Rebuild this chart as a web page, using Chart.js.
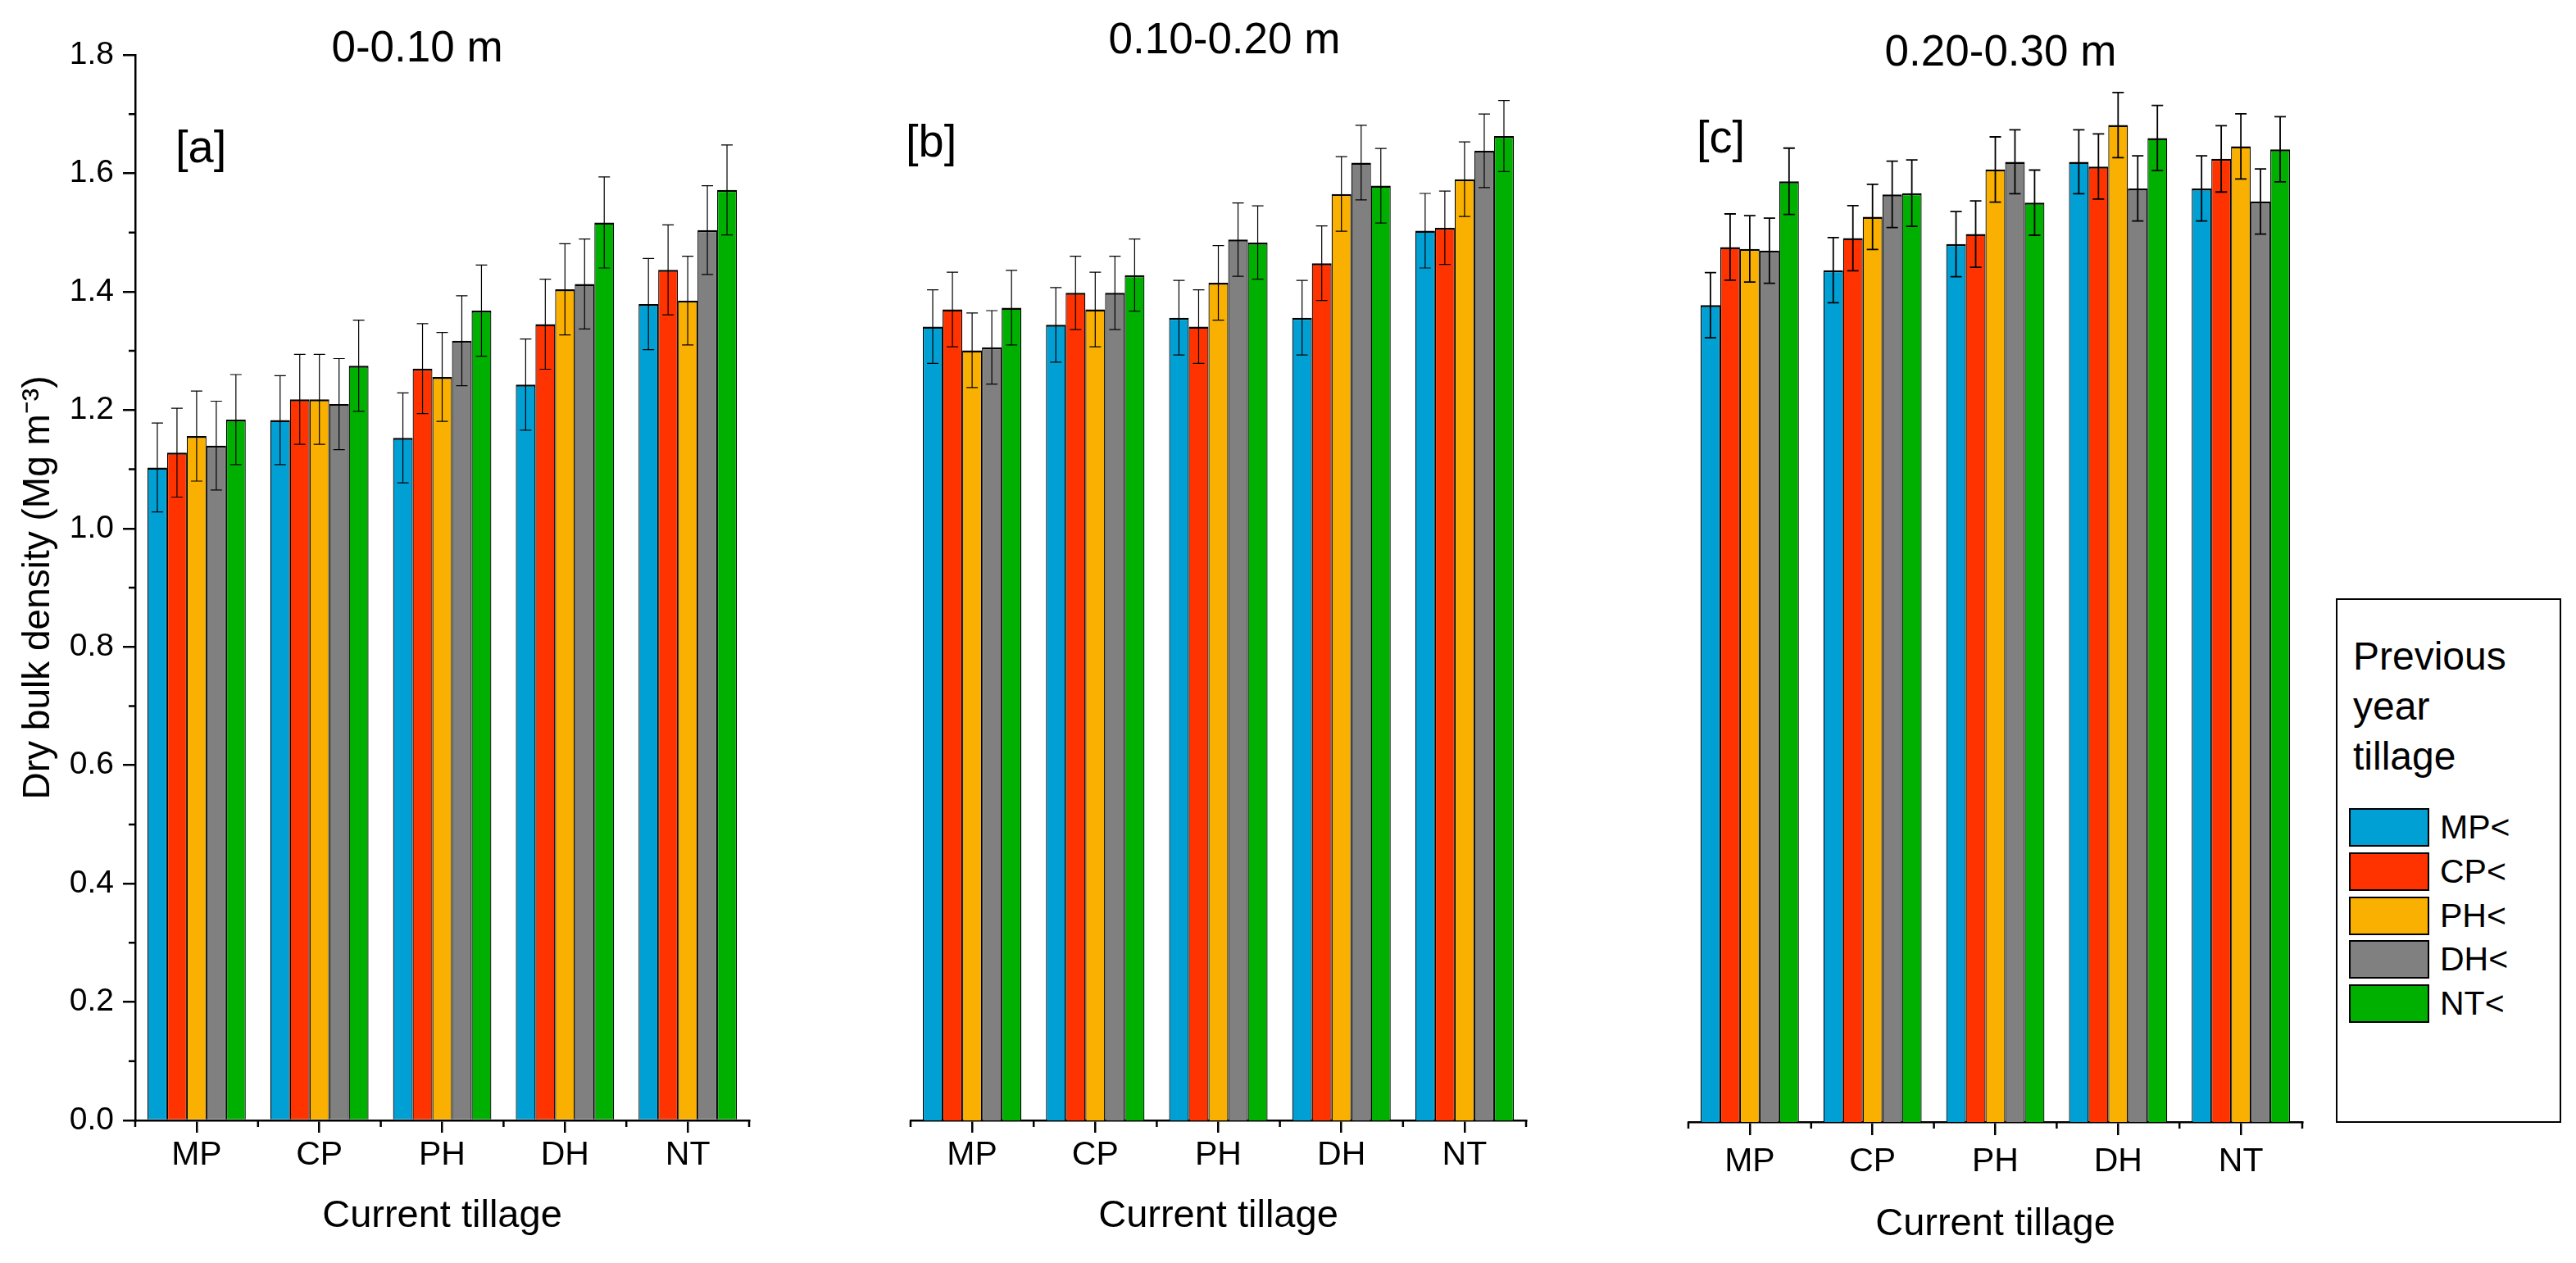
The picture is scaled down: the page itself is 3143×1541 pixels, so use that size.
<!DOCTYPE html>
<html>
<head>
<meta charset="utf-8">
<script src="https://cdn.jsdelivr.net/npm/chart.js@4.4.1/dist/chart.umd.min.js"></script>
<style>
  html, body { margin: 0; padding: 0; background: #fff; }
  body { width: 3143px; height: 1541px; position: relative; overflow: hidden;
         font-family: "Liberation Sans", Arial, sans-serif; color: #000; }
  canvas { position: absolute; top: 0; }
  .txt { position: absolute; white-space: nowrap; line-height: 1; }
  .center { transform: translateX(-50%); }
  #legend { position: absolute; left: 2850px; top: 730px; width: 275px; height: 640px;
            box-sizing: border-box; border: 2px solid #000; }
  #legend .head { position: absolute; left: 19px; top: 38px; font-size: 48px; line-height: 61px; }
  #legend .rows { position: absolute; left: 14px; top: 251px; }
  #legend .row { height: 53.7px; display: flex; align-items: center; }
  #legend .sw { width: 98px; height: 47px; box-sizing: border-box; border: 2px solid #000; }
  #legend .lab { margin-left: 13px; font-size: 41px; }
</style>
</head>
<body>
<canvas id="chart-a" width="940" height="1541" style="left:0px"></canvas>
<canvas id="chart-b" width="800" height="1541" style="left:1090px"></canvas>
<canvas id="chart-c" width="800" height="1541" style="left:2040px"></canvas>

<div class="txt center" style="left:509px; top:30px; font-size:53px">0-0.10 m</div>
<div class="txt center" style="left:1494px; top:20px; font-size:53px">0.10-0.20 m</div>
<div class="txt center" style="left:2441px; top:35px; font-size:53px">0.20-0.30 m</div>

<div class="txt" style="left:214px; top:151px; font-size:56px">[a]</div>
<div class="txt" style="left:1105px; top:144px; font-size:56px">[b]</div>
<div class="txt" style="left:2070px; top:139px; font-size:56px">[c]</div>

<div id="legend">
  <div class="head">Previous<br>year<br>tillage</div>
  <div class="rows" id="legend-rows"></div>
</div>

<script>
// current tillage (x axis) and previous year tillage (series)
const currentTillage = ["MP", "CP", "PH", "DH", "NT"];
const previousTillage = ["MP<", "CP<", "PH<", "DH<", "NT<"];
const seriesColors = ["#00A0D5", "#FF3300", "#F9B000", "#808080", "#00B000"];
const yTicks = [0, 0.2, 0.4, 0.6, 0.8, 1.0, 1.2, 1.4, 1.6, 1.8];

// 0-0.10 m, one row per previous tillage, values over current tillage
const meansA = [
  [1.103, 1.183, 1.153, 1.243, 1.379],
  [1.128, 1.218, 1.270, 1.345, 1.437],
  [1.156, 1.218, 1.256, 1.404, 1.385],
  [1.140, 1.210, 1.317, 1.413, 1.504],
  [1.184, 1.275, 1.368, 1.517, 1.572],
];
const errorsA = [
  [0.075, 0.075, 0.076, 0.077, 0.077],
  [0.075, 0.076, 0.076, 0.076, 0.076],
  [0.076, 0.076, 0.075, 0.077, 0.075],
  [0.075, 0.077, 0.076, 0.076, 0.075],
  [0.076, 0.077, 0.077, 0.077, 0.076],
];

// 0.10-0.20 m
const meansB = [
  [1.341, 1.344, 1.356, 1.356, 1.503],
  [1.370, 1.398, 1.341, 1.448, 1.508],
  [1.301, 1.370, 1.415, 1.565, 1.590],
  [1.306, 1.398, 1.488, 1.618, 1.638],
  [1.373, 1.428, 1.483, 1.579, 1.663],
];
const errorsB = [
  [0.062, 0.063, 0.063, 0.063, 0.063],
  [0.063, 0.062, 0.062, 0.063, 0.062],
  [0.063, 0.063, 0.063, 0.063, 0.063],
  [0.062, 0.062, 0.062, 0.063, 0.062],
  [0.063, 0.061, 0.062, 0.063, 0.060],
];

// 0.20-0.30 m
const meansC = [
  [1.379, 1.438, 1.482, 1.621, 1.576],
  [1.477, 1.492, 1.499, 1.613, 1.626],
  [1.474, 1.528, 1.608, 1.683, 1.647],
  [1.471, 1.566, 1.621, 1.576, 1.554],
  [1.588, 1.568, 1.552, 1.661, 1.642],
];
const errorsC = [
  [0.055, 0.055, 0.055, 0.054, 0.055],
  [0.056, 0.055, 0.056, 0.055, 0.056],
  [0.056, 0.055, 0.055, 0.055, 0.055],
  [0.055, 0.056, 0.054, 0.055, 0.055],
  [0.056, 0.056, 0.055, 0.055, 0.055],
];

const FONT = "'Liberation Sans', Arial, sans-serif";

// draws mean +/- error whiskers on top of the bars
const errorBars = {
  id: "errorBars",
  afterDatasetsDraw(chart, args, opts) {
    const { ctx } = chart;
    const y = chart.scales.y;
    ctx.save();
    ctx.strokeStyle = "#000";
    ctx.lineWidth = opts.width || 1.3;
    chart.data.datasets.forEach((ds, i) => {
      chart.getDatasetMeta(i).data.forEach((bar, j) => {
        const v = ds.data[j];
        const e = ds.errors[j];
        const top = y.getPixelForValue(v + e);
        const bot = y.getPixelForValue(v - e);
        const cap = 7;
        ctx.beginPath();
        ctx.moveTo(bar.x, top); ctx.lineTo(bar.x, bot);
        ctx.moveTo(bar.x - cap, top); ctx.lineTo(bar.x + cap, top);
        ctx.moveTo(bar.x - cap, bot); ctx.lineTo(bar.x + cap, bot);
        ctx.stroke();
      });
    });
    ctx.restore();
  },
};

// short ticks between categories, and between labelled y ticks
const minorTicks = {
  id: "minorTicks",
  afterDraw(chart, args, opts) {
    const { ctx, chartArea } = chart;
    const x = chart.scales.x;
    const y = chart.scales.y;
    ctx.save();
    ctx.strokeStyle = "#000";
    ctx.lineWidth = 2.5;
    ctx.beginPath();
    for (let i = 0; i <= currentTillage.length; i++) {
      const px = x.getPixelForValue(i - 0.5);
      ctx.moveTo(px, chartArea.bottom);
      ctx.lineTo(px, chartArea.bottom + 8);
    }
    if (opts.yMinor) {
      for (let k = 0; k < yTicks.length - 1; k++) {
        const py = y.getPixelForValue((yTicks[k] + yTicks[k + 1]) / 2);
        ctx.moveTo(chartArea.left - 8, py);
        ctx.lineTo(chartArea.left, py);
      }
    }
    ctx.stroke();
    ctx.restore();
  },
};

function makeDatasets(means, errors) {
  return previousTillage.map((name, i) => ({
    label: name,
    data: means[i],
    errors: errors[i],
    backgroundColor: seriesColors[i],
    borderColor: "#000",
    borderWidth: { top: 2.5, left: 1.25, right: 1.25, bottom: 0 },
    borderSkipped: "start",
    barPercentage: 1.0,
    categoryPercentage: 0.8,
  }));
}

function makePanel(id, means, errors, cfg) {
  const yAxis = {
    display: cfg.showY,
    min: 0,
    max: 1.8,
    afterBuildTicks: (s) => { s.ticks = yTicks.map((v) => ({ value: v })); },
    ticks: {
      color: "#000",
      font: { family: FONT, size: 39 },
      padding: 11,
      callback: (v) => Number(v).toFixed(1),
    },
    grid: { drawOnChartArea: false, drawTicks: true, tickLength: 15, color: "#000", lineWidth: 2.5 },
    border: { display: true, color: "#000", width: 2.5 },
    title: {
      display: cfg.showY,
      text: "Dry bulk density (Mg m\u207B\u00B3)",
      color: "#000",
      font: { family: FONT, size: 46 },
      padding: { top: 20, bottom: 0 },
    },
  };
  if (cfg.showY) yAxis.afterFit = (s) => { s.width = 165; };

  return new Chart(document.getElementById(id), {
    type: "bar",
    data: { labels: currentTillage, datasets: makeDatasets(means, errors) },
    options: {
      responsive: false,
      animation: false,
      devicePixelRatio: 1,
      layout: { padding: { top: cfg.top, right: cfg.right, bottom: 0, left: cfg.left } },
      plugins: {
        legend: { display: false },
        tooltip: { enabled: false },
        errorBars: { width: cfg.errWidth },
        minorTicks: { yMinor: cfg.showY },
      },
      scales: {
        x: {
          offset: true,
          ticks: { color: "#000", font: { family: FONT, size: 41 }, padding: cfg.tickPad },
          grid: { offset: false, drawOnChartArea: false, drawTicks: true, tickLength: cfg.tickLen, color: "#000", lineWidth: 2.5 },
          border: { display: true, color: "#000", width: 2.5 },
          title: {
            display: true,
            text: "Current tillage",
            color: "#000",
            font: { family: FONT, size: 47 },
            padding: { top: 0, bottom: cfg.titlePad },
          },
          afterFit: (s) => { s.height = cfg.xHeight; },
        },
        y: yAxis,
      },
    },
    plugins: [errorBars, minorTicks],
  });
}

function buildLegend() {
  const rows = document.getElementById("legend-rows");
  previousTillage.forEach((name, i) => {
    const row = document.createElement("div");
    row.className = "row";
    row.innerHTML = `<div class="sw" style="background:${seriesColors[i]}"></div><div class="lab">${name.replace("<", "&lt;")}</div>`;
    rows.appendChild(row);
  });
}

makePanel("chart-a", meansA, errorsA, { showY: true, top: 67, right: 26, left: 0, xHeight: 174, tickPad: 3, tickLen: 15, titlePad: 29, errWidth: 1.2 });
makePanel("chart-b", meansB, errorsB, { showY: false, top: 67, right: 28, left: 21, xHeight: 174, tickPad: 3, tickLen: 15, titlePad: 29, errWidth: 1.2 });
makePanel("chart-c", meansC, errorsC, { showY: false, top: 68, right: 31, left: 20, xHeight: 172, tickPad: 8, tickLen: 16, titlePad: 19, errWidth: 1.8 });
buildLegend();
</script>
</body>
</html>
